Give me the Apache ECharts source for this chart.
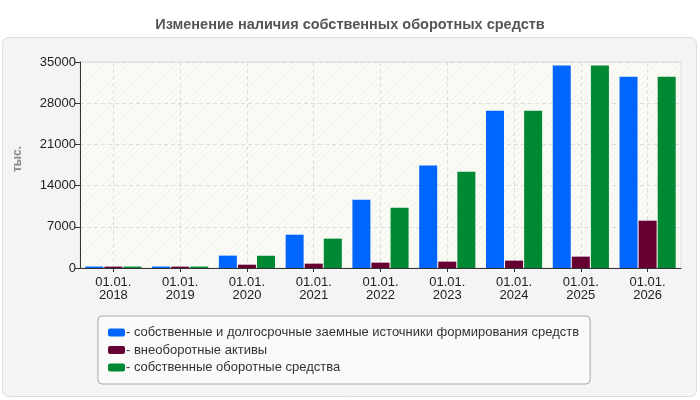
<!DOCTYPE html>
<html>
<head>
<meta charset="utf-8">
<script src="https://cdn.jsdelivr.net/npm/echarts@6/dist/echarts.min.js"></script>
<style>
  html, body { margin: 0; padding: 0; background: #fff; }
  #chart { width: 700px; height: 400px; }
</style>
</head>
<body>
<div id="chart"></div>
<script>
// данные графика
const categories = ['01.01.\n2018', '01.01.\n2019', '01.01.\n2020', '01.01.\n2021', '01.01.\n2022',
                    '01.01.\n2023', '01.01.\n2024', '01.01.\n2025', '01.01.\n2026'];
const sourcesValues = [250, 250, 2100, 5660, 11600, 17400, 26700, 34400, 32500];
const nonCurrentValues = [230, 230, 560, 740, 910, 1080, 1250, 1930, 8040];
const workingCapitalValues = [240, 240, 2080, 4990, 10250, 16350, 26700, 34400, 32500];
const yTicks = { min: 0, max: 35000, interval: 7000 };

const seriesNames = [
  'собственные и долгосрочные заемные источники формирования средств',
  'внеоборотные активы',
  'собственные оборотные средства'
];
const seriesColors = ['#0066ff', '#660033', '#008833'];

// лёгкая диагональная штриховка фона
function hatchPattern() {
  const c = document.createElement('canvas');
  c.width = 6; c.height = 6;
  const ctx = c.getContext('2d');
  ctx.fillStyle = '#fbfbf5';
  ctx.fillRect(0, 0, 6, 6);
  ctx.strokeStyle = '#f0f0ea';
  ctx.lineWidth = 1;
  ctx.beginPath();
  ctx.moveTo(0, 6); ctx.lineTo(6, 0);
  ctx.moveTo(-1, 1); ctx.lineTo(1, -1);
  ctx.moveTo(5, 7); ctx.lineTo(7, 5);
  ctx.stroke();
  return c;
}

const font = '"Liberation Sans", Arial, sans-serif';
const chart = echarts.init(document.getElementById('chart'), null, { renderer: 'canvas' });

chart.setOption({
  backgroundColor: '#fff',
  animation: false,
  textStyle: { fontFamily: font },
  title: {
    text: 'Изменение наличия собственных оборотных средств',
    left: 'center', top: 12,
    textStyle: { fontSize: 14.5, fontWeight: 'bold', color: '#555', fontFamily: font }
  },
  graphic: [{
    type: 'rect', z: -10, silent: true,
    shape: { x: 2.5, y: 37.5, width: 694, height: 359, r: 6 },
    style: { fill: '#f4f4f4', stroke: '#dcdcdc', lineWidth: 1 }
  }],
  grid: {
    left: 80, right: 19, top: 62, bottom: 132,
    show: true,
    backgroundColor: { image: hatchPattern(), repeat: 'repeat' },
    borderColor: '#dddddd', borderWidth: 1
  },
  legend: {
    orient: 'vertical',
    left: 98, top: 316,
    padding: [10, 11, 10, 10],
    backgroundColor: '#fafafa',
    borderColor: '#aaaaaa', borderWidth: 1, borderRadius: 4,
    itemWidth: 17, itemHeight: 8, itemGap: 4.5,
    icon: 'roundRect',
    formatter: name => '- ' + name,
    textStyle: { fontSize: 13, color: '#333', fontFamily: font, padding: [0, 0, 0, -4] },
    data: seriesNames
  },
  xAxis: {
    type: 'category',
    data: categories,
    axisLine: { lineStyle: { color: '#333', width: 1 } },
    axisTick: { show: true, alignWithLabel: true, length: 4, lineStyle: { color: '#333' } },
    axisLabel: { color: '#222', fontSize: 13, lineHeight: 13, margin: 8, interval: 0 },
    splitLine: { show: true, alignWithLabel: true, interval: 0, lineStyle: { color: '#dddddd', type: [4, 3] } }
  },
  yAxis: {
    type: 'value',
    min: yTicks.min, max: yTicks.max, interval: yTicks.interval,
    name: 'тыс.',
    nameLocation: 'middle',
    nameGap: 56,
    nameRotate: 90,
    nameTextStyle: { color: '#888', fontSize: 12, fontWeight: 'bold', fontFamily: font, padding: [0, 0, 0, 12] },
    axisLine: { show: true, lineStyle: { color: '#333', width: 1 } },
    axisTick: { show: true, length: 5, lineStyle: { color: '#333' } },
    axisLabel: { color: '#222', fontSize: 13, margin: 4, formatter: v => String(v) },
    splitLine: { show: true, lineStyle: { color: '#dddddd', type: [4, 3] } }
  },
  series: [sourcesValues, nonCurrentValues, workingCapitalValues].map((vals, i) => ({
    name: seriesNames[i],
    type: 'bar',
    data: vals,
    barWidth: 18,
    barGap: '6%',
    itemStyle: { color: seriesColors[i] }
  }))
});
</script>
</body>
</html>
